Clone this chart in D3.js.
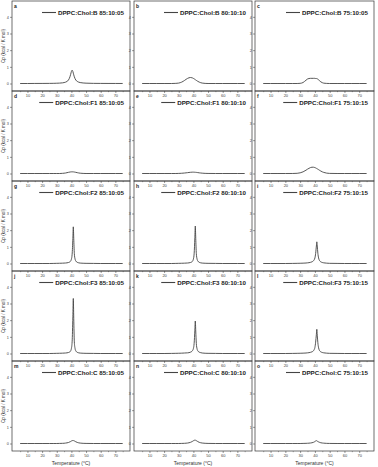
<!DOCTYPE html>
<html><head><meta charset="utf-8">
<script src="https://cdn.jsdelivr.net/npm/d3@7"></script>
<style>body{margin:0;background:#fff}svg{display:block}</style>
</head><body>
<svg id="chart" width="378" height="467"></svg>
<script>
// ---- data ----
const temperature = [5,10,15,20,25,28,30,32,34,35,36,37,38,39,39.5,40,40.5,41,41.3,41.6,42,42.5,43,44,45,46,48,50,55,60,65,70,75];

const cpB_85 = [0,0,0.003,0.004,0.007,0.011,0.016,0.024,0.04,0.056,0.08,0.124,0.21,0.4,0.55,0.72,0.8,0.72,0.62,0.52,0.4,0.29,0.21,0.124,0.08,0.056,0.031,0.02,0.008,0.005,0.003,0.002,0.001];
const cpB_80 = [0,0,0,0,0,0.008,0.026,0.083,0.187,0.25,0.305,0.345,0.36,0.345,0.33,0.305,0.28,0.25,0.23,0.212,0.187,0.157,0.13,0.083,0.049,0.026,0.006,0,0,0,0,0,0];
const cpB_75 = [0,0,0,0,0,0,0.01,0.06,0.2,0.27,0.3,0.31,0.31,0.31,0.31,0.31,0.3,0.3,0.29,0.28,0.26,0.22,0.18,0.1,0.05,0.02,0.005,0,0,0,0,0,0];
const cpF1_85 = [0,0,0,0,0,0,0,0,0.01,0.018,0.03,0.05,0.07,0.088,0.095,0.099,0.1,0.099,0.097,0.094,0.088,0.08,0.07,0.05,0.032,0.018,0.005,0,0,0,0,0,0];
const cpF1_80 = [0,0,0,0,0,0,0.005,0.015,0.03,0.04,0.05,0.062,0.072,0.078,0.08,0.08,0.078,0.075,0.072,0.07,0.066,0.06,0.054,0.04,0.03,0.02,0.008,0.003,0,0,0,0,0];
const cpF1_75 = [0,0,0,0,0.001,0.012,0.04,0.1,0.2,0.26,0.31,0.355,0.377,0.377,0.368,0.355,0.335,0.31,0.297,0.28,0.26,0.23,0.2,0.147,0.1,0.066,0.022,0.006,0,0,0,0,0];
const cpF2_85 = [0,0,0,0,0,0.005,0.01,0.015,0.02,0.025,0.03,0.04,0.06,0.1,0.15,0.26,0.55,1.5,2.2,1.5,0.6,0.27,0.15,0.07,0.04,0.025,0.015,0.01,0.005,0,0,0,0];
const cpF2_80 = [0,0,0,0,0,0.005,0.01,0.015,0.02,0.025,0.03,0.04,0.06,0.1,0.15,0.27,0.58,1.55,2.25,1.5,0.6,0.27,0.15,0.07,0.04,0.025,0.015,0.01,0.005,0,0,0,0];
const cpF2_75 = [0,0,0,0,0.005,0.01,0.015,0.02,0.03,0.04,0.05,0.07,0.1,0.16,0.22,0.33,0.6,1.05,1.3,1.05,0.62,0.33,0.2,0.1,0.06,0.04,0.02,0.01,0.005,0,0,0,0];
const cpF3_85 = [0,0,0,0,0,0.005,0.01,0.015,0.02,0.025,0.03,0.04,0.06,0.1,0.16,0.3,0.7,2.2,3.3,2.1,0.7,0.3,0.16,0.07,0.04,0.025,0.015,0.01,0.005,0,0,0,0];
const cpF3_80 = [0,0,0,0,0.005,0.01,0.015,0.02,0.03,0.035,0.04,0.05,0.08,0.13,0.19,0.3,0.6,1.4,1.95,1.35,0.6,0.28,0.16,0.08,0.05,0.03,0.015,0.01,0.005,0,0,0,0];
const cpF3_75 = [0,0,0,0,0.005,0.01,0.015,0.02,0.03,0.04,0.05,0.07,0.1,0.16,0.23,0.36,0.68,1.15,1.45,1.1,0.65,0.34,0.2,0.1,0.06,0.04,0.02,0.01,0.005,0,0,0,0];
const cpC_85 = [0,0,0,0,0,0,0,0.005,0.01,0.015,0.025,0.04,0.06,0.1,0.12,0.15,0.17,0.18,0.178,0.17,0.155,0.13,0.105,0.065,0.04,0.025,0.01,0.005,0,0,0,0,0];
const cpC_80 = [0,0,0,0,0,0,0,0.005,0.012,0.018,0.028,0.045,0.07,0.11,0.135,0.165,0.19,0.2,0.198,0.19,0.17,0.145,0.115,0.07,0.045,0.028,0.012,0.005,0,0,0,0,0];
const cpC_75 = [0,0,0,0,0,0,0,0.005,0.01,0.015,0.02,0.03,0.045,0.07,0.09,0.12,0.15,0.17,0.16,0.14,0.12,0.095,0.075,0.045,0.03,0.02,0.008,0.003,0,0,0,0,0];

const panelLetters = ["a","b","c","d","e","f","g","h","i","j","k","l","m","n","o"];
const panelNames = [
  "DPPC:Chol:B 85:10:05","DPPC:Chol:B 80:10:10","DPPC:Chol:B 75:10:05",
  "DPPC:Chol:F1 85:10:05","DPPC:Chol:F1 80:10:10","DPPC:Chol:F1 75:10:15",
  "DPPC:Chol:F2 85:10:05","DPPC:Chol:F2 80:10:10","DPPC:Chol:F2 75:10:15",
  "DPPC:Chol:F3 85:10:05","DPPC:Chol:F3 80:10:10","DPPC:Chol:F3 75:10:15",
  "DPPC:Chol:C 85:10:05","DPPC:Chol:C 80:10:10","DPPC:Chol:C 75:10:15"];
const panelSeries = [cpB_85,cpB_80,cpB_75,cpF1_85,cpF1_80,cpF1_75,cpF2_85,cpF2_80,cpF2_75,cpF3_85,cpF3_80,cpF3_75,cpC_85,cpC_80,cpC_75];
const xTicks = [10,20,30,40,50,60,70];
const xMinor = [5,15,25,35,45,55,65,75];
const yTicks = [0,1,2,3,4];
const xLabel = "Temperature (°C)";
const yLabel = "Cp (kcal / K mol)";

// ---- layout ----
const colX = [[12,130],[134,252],[255,374]];
const rowTop = 1, rowH = 90;
const svg = d3.select("#chart");
const lineColor = "#444", ink = "#333";
const fam = "Liberation Sans, Arial, sans-serif";

panelSeries.forEach((vals, i) => {
  const r = Math.floor(i/3), c = i%3;
  const x0 = colX[c][0], x1 = colX[c][1];
  const y0 = rowTop + r*rowH, y1 = y0 + rowH;
  const xs = d3.scaleLinear().domain([0,80]).range([x0+0.8, x1]);
  const ys = d3.scaleLinear().domain([-0.45,4.95]).range([y1, y0]);
  const g = svg.append("g");

  // x axis (bottom)
  const xa = g.append("g").attr("transform",`translate(0,${y1})`)
    .call(d3.axisBottom(xs).tickValues(xTicks).tickFormat(d3.format("d")).tickSize(2).tickPadding(1).tickSizeOuter(0));
  xa.select(".domain").remove();
  xa.selectAll("text").attr("font-size",4).attr("font-family",fam).attr("fill","#444");
  xa.selectAll("line").attr("stroke",ink).attr("stroke-width",0.5);
  const xm = g.append("g").attr("transform",`translate(0,${y1})`)
    .call(d3.axisBottom(xs).tickValues(xMinor).tickSize(1.2).tickFormat(""));
  xm.select(".domain").remove();
  xm.selectAll("line").attr("stroke",ink).attr("stroke-width",0.4);

  // y axis (left)
  const ya = g.append("g").attr("transform",`translate(${x0},0)`)
    .call(d3.axisLeft(ys).tickValues(yTicks).tickFormat(d3.format("d")).tickSize(2).tickPadding(1.2));
  ya.select(".domain").remove();
  ya.selectAll("text").attr("font-size",3.8).attr("font-family",fam).attr("fill","#444");
  ya.selectAll("line").attr("stroke",ink).attr("stroke-width",0.5);

  // frame
  g.append("rect").attr("x",x0).attr("y",y0).attr("width",x1-x0).attr("height",y1-y0)
    .attr("fill","none").attr("stroke",ink).attr("stroke-width",0.7);

  // curve
  const data = temperature.map((t,k)=>[t, vals[k]]);
  g.append("path").datum(data)
    .attr("d", d3.line().x(d=>xs(d[0])).y(d=>ys(d[1])).curve(d3.curveMonotoneX))
    .attr("fill","none").attr("stroke",lineColor).attr("stroke-width",0.9);

  // panel letter
  g.append("text").attr("x",x0+2).attr("y",y0+7).text(panelLetters[i])
    .attr("font-size",5).attr("font-weight","bold").attr("font-family",fam).attr("fill","#222");

  // legend
  const lt = g.append("text").attr("x",x1-6).attr("y",y0+13.5).attr("text-anchor","end")
    .text(panelNames[i]).attr("font-size",6.2).attr("font-weight","bold")
    .attr("font-family",fam).attr("fill","#222");
  const w = lt.node().getComputedTextLength();
  const tx = x1-6-w;
  g.append("line").attr("x1",tx-16).attr("x2",tx-2).attr("y1",y0+11.5).attr("y2",y0+11.5)
    .attr("stroke",lineColor).attr("stroke-width",1.1);

  if (c===0) {
    svg.append("text").attr("transform",`translate(4.5,${(y0+y1)/2}) rotate(-90)`)
      .attr("text-anchor","middle").text(yLabel).attr("font-size",4.6)
      .attr("font-family",fam).attr("fill","#333");
  }
  if (r===4) {
    svg.append("text").attr("x",(x0+x1)/2).attr("y",465).attr("text-anchor","middle")
      .text(xLabel).attr("font-size",5).attr("font-family",fam).attr("fill","#333");
  }
});
</script>
</body></html>
